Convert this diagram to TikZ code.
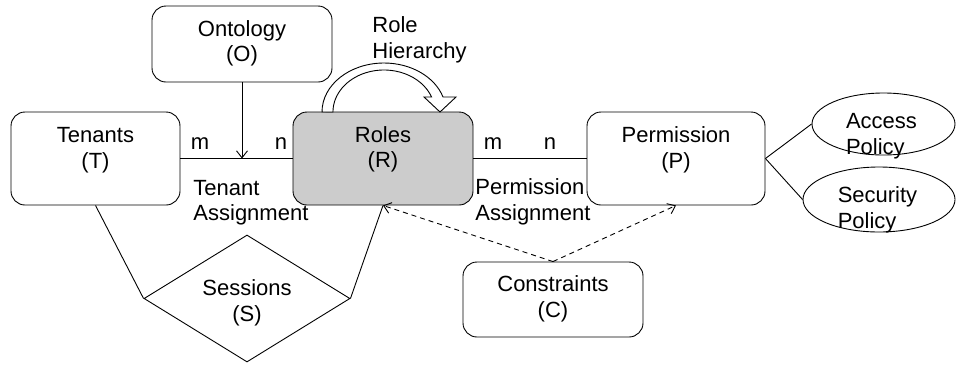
\documentclass[tikz,border=0pt]{standalone}
\usepackage{fontspec}
\setmainfont{Liberation Sans}
\usetikzlibrary{arrows.meta,shapes.geometric}
\begin{document}
\begin{tikzpicture}[x=1pt,y=1pt,
  line width=0.9pt,
  every node/.style={font=\fontsize{22}{25.5}\selectfont},
  entity/.style={draw, rounded corners=14pt, inner sep=0pt},
  relation/.style={draw, diamond, inner sep=0pt},
  attr/.style={draw, ellipse, inner sep=0pt},
  txt/.style={inner sep=0pt, align=center},
  ltxt/.style={inner sep=0pt, align=left},
  card/.style={inner sep=0pt, anchor=base},
  tip/.style={-{Straight Barb[length=7pt,width=11pt]}},
  constraint/.style={tip, dash pattern=on 5pt off 4pt}]
\useasboundingbox (0,0) rectangle (957,-365);

% entity boxes
\node[entity, minimum width=169pt, minimum height=93pt] (T) at (95.5,-158.5) {};
\node[entity, fill=black!20, minimum width=180pt, minimum height=93pt] (R) at (383,-158.5) {};
\node[entity, minimum width=178pt, minimum height=93pt] (P) at (676,-158.5) {};
\node[entity, minimum width=180pt, minimum height=76pt] (O) at (242,-44) {};
\node[entity, minimum width=180pt, minimum height=75pt] (C) at (553,-299.5) {};
\node[relation, minimum width=206pt, minimum height=127pt] (S) at (247,-298.5) {};
\node[attr, minimum width=143pt, minimum height=62pt] (A) at (883.5,-124) {};
\node[attr, minimum width=152pt, minimum height=65pt] (SP) at (879,-199.5) {};

% connectors
\coordinate (ta) at (O.south |- T.east);
\draw (T.east) -- (R.west);
\draw (R.east) -- (P.west);
\draw[tip] (O.south) -- (ta);
\draw (T.south) -- (S.west);
\draw (R.south) -- (S.east);
\draw[constraint] (C.north) -- (R.south);
\draw[constraint] (C.north) -- (P.south);
\draw (P.east) -- (A.west);
\draw (P.east) -- (SP.west);

% role hierarchy (hollow curved arrow onto the roles box)
\draw[fill=white, line join=miter]
  (322,-112) arc[start angle=180, end angle=17.8, x radius=62, y radius=49]
  -- (456,-97) -- (440,-112) -- (424,-97) -- (431.6,-97)
  arc[start angle=20.9, end angle=180, x radius=51, y radius=42]
  -- cycle;

% labels
\node[txt] (Tt) at (95.5,-150) {Tenants\\(T)};
\node[txt] (Rt) at (383,-149.5) {Roles\\(R)};
\node[txt] (Pt) at (676,-150) {Permission\\(P)};
\node[txt] (Ot) at (242,-43.5) {Ontology\\(O)};
\node[txt] (Ct) at (553,-299) {Constraints\\(C)};
\node[txt] (St) at (247,-303) {Sessions\\(S)};
\node[ltxt] (At) at (881.5,-136) {Access\\Policy};
\node[ltxt] (SPt) at (877.5,-210) {Security\\Policy};
\node[ltxt, anchor=west] (RH) at (372,-40) {Role\\Hierarchy};
\node[ltxt, anchor=north west] (TA) at (193,-179.5) {Tenant\\Assignment};
\node[ltxt, anchor=north west] (PA) at (475,-178.5) {Permission\\Assignment};
\node[card] (m1) at (200,-149) {m};
\node[card] (n1) at (281,-149) {n};
\node[card] (m2) at (493,-149) {m};
\node[card] (n2) at (550,-149) {n};
\end{tikzpicture}
\end{document}
